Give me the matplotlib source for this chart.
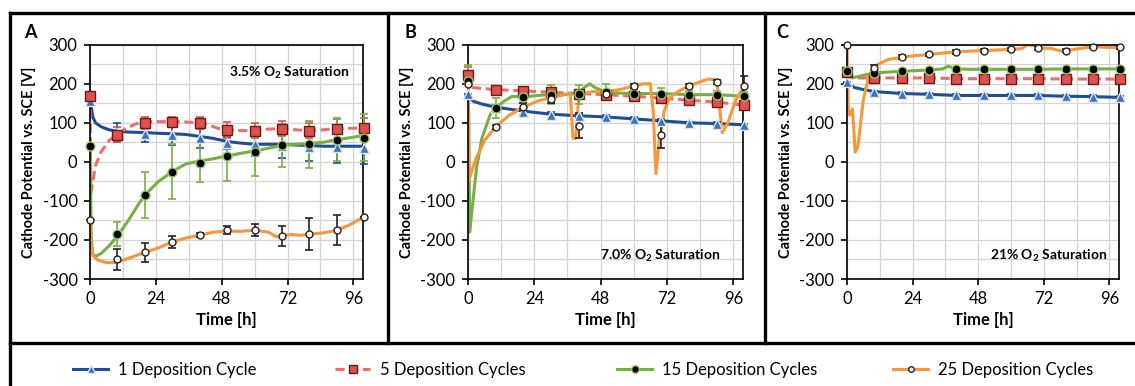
#!/usr/bin/env python3
"""Cathode potential vs time for three O2 saturation levels (panels A-C)."""

import matplotlib

matplotlib.use("Agg")
import matplotlib.pyplot as plt
from matplotlib.lines import Line2D
from matplotlib.ticker import MultipleLocator

plt.rcParams["font.family"] = ["Lato", "DejaVu Sans"]
plt.rcParams["mathtext.fontset"] = "custom"
plt.rcParams["mathtext.rm"] = "Lato"
plt.rcParams["mathtext.bf"] = "Lato:bold"
plt.rcParams["axes.unicode_minus"] = False

SERIES = ["1 Deposition Cycle", "5 Deposition Cycles", "15 Deposition Cycles", "25 Deposition Cycles"]
MARKER_T = [0, 10, 20, 30, 40, 50, 60, 70, 80, 90, 100]

# ---- panel A: 3.5% O2 ----
A_T1 = [0, 0.5, 1, 2, 4, 7, 10, 15, 20, 25, 30, 35, 40, 45, 50, 55, 60, 65, 70, 75, 80, 85, 90, 95, 100]
A_V1 = [155, 140, 115, 100, 90, 82, 78, 76, 75, 73, 72, 70, 65, 60, 52, 48, 45, 45, 45, 43, 42, 40, 40, 40, 40]
A_T5 = [0, 0.3, 0.8, 2, 4, 7, 10, 13, 17, 20, 25, 30, 35, 40, 43, 47, 50, 55, 60, 65, 70, 75, 80, 85, 90, 95, 100]
A_V5 = [168, -80, -60, -10, 25, 55, 70, 85, 98, 102, 103, 103, 102, 100, 95, 85, 82, 80, 80, 84, 85, 82, 80, 82, 85, 86, 87]
A_T15 = [0, 0.5, 1, 2, 4, 7, 10, 14, 18, 20, 25, 30, 35, 40, 45, 50, 55, 60, 65, 70, 75, 80, 85, 90, 95, 100]
A_V15 = [40, -200, -235, -242, -235, -215, -190, -150, -105, -85, -50, -25, -5, 2, 8, 15, 22, 28, 35, 42, 45, 47, 50, 57, 62, 68]
A_T25 = [0, 0.5, 1, 3, 6, 9, 12, 16, 20, 25, 30, 35, 40, 45, 50, 55, 60, 65, 68, 70, 73, 77, 80, 85, 90, 95, 100]
A_V25 = [-150, -220, -240, -252, -258, -258, -252, -242, -232, -220, -205, -195, -188, -180, -177, -178, -175, -180,
         -192, -190, -186, -188, -185, -182, -175, -160, -140]
A_M1 = [155, 75, 72, 68, 60, 48, 45, 40, 38, 38, 35]
A_E1 = [0, 25, 20, 25, 25, 15, 30, 30, 35, 40, 40]
A_M5 = [168, 70, 100, 103, 100, 82, 80, 85, 80, 85, 87]
A_E5 = [0, 20, 15, 12, 15, 20, 20, 20, 20, 25, 25]
A_M15 = [40, -185, -85, -25, -2, 15, 25, 42, 45, 57, 62]
A_E15 = [0, 30, 60, 70, 50, 65, 60, 55, 60, 55, 60]
A_M25 = [-150, -250, -232, -205, -188, -175, -175, -190, -185, -175, -140]
A_E25 = [0, 28, 25, 15, 5, 10, 15, 25, 40, 38, 0]

# ---- panel B: 7.0% O2 ----
B_T1 = [0, 0.5, 2, 5, 10, 20, 30, 40, 50, 60, 70, 80, 90, 100]
B_V1 = [175, 165, 155, 148, 140, 130, 122, 118, 115, 110, 105, 100, 98, 95]
B_T5 = [0, 0.5, 2, 5, 10, 20, 30, 40, 50, 60, 70, 80, 90, 100]
B_V5 = [222, 195, 190, 188, 185, 182, 178, 175, 172, 168, 163, 158, 153, 145]
B_T15 = [0, 0.3, 0.6, 1.5, 3, 5, 8, 10, 13, 16, 20, 25, 30, 35, 40, 42, 44, 46, 50, 55, 60, 70, 80, 90, 100]
B_V15 = [208, 100, -180, -120, -20, 60, 120, 138, 155, 168, 165, 170, 172, 173, 175, 190, 200, 190, 178, 176, 175,
         175, 172, 172, 168]
B_T25 = [0, 0.3, 1, 3, 6, 10, 15, 20, 25, 30, 35, 37, 38, 39, 40, 42, 45, 50, 55, 60, 64, 66, 67, 68, 69, 71, 73,
         76, 80, 84, 87, 90, 91, 92, 94, 97, 100]
B_V25 = [200, -50, -30, 10, 55, 90, 120, 140, 155, 165, 172, 175, 60, 60, 160, 175, 180, 180, 185, 195, 200, 200,
         130, -30, 40, 130, 165, 180, 195, 205, 212, 210, 140, 75, 100, 160, 195]
B_M1 = [175, 138, 128, 120, 118, 115, 110, 105, 100, 98, 95]
B_E1 = [0, 8, 8, 8, 5, 5, 5, 5, 3, 3, 3]
B_M5 = [222, 185, 182, 178, 175, 172, 168, 163, 158, 153, 145]
B_E5 = [20, 5, 5, 5, 5, 5, 5, 5, 5, 5, 5]
B_M15 = [208, 138, 165, 172, 173, 180, 175, 175, 172, 172, 168]
B_E15 = [40, 25, 15, 25, 25, 20, 10, 15, 10, 10, 10]
B_M25 = [200, 90, 140, 160, 93, 175, 195, 70, 195, 205, 195]
B_E25 = [0, 5, 10, 10, 32, 5, 5, 35, 5, 5, 25]

# ---- panel C: 21% O2 ----
C_T1 = [0, 1, 3, 6, 10, 20, 30, 40, 50, 60, 70, 80, 90, 100]
C_V1 = [205, 195, 190, 185, 180, 175, 173, 170, 170, 170, 170, 168, 167, 165]
C_T5 = [0, 1, 3, 10, 20, 30, 40, 50, 60, 70, 80, 90, 100]
C_V5 = [230, 218, 215, 215, 215, 215, 213, 213, 213, 213, 212, 212, 212]
C_T15 = [0, 2, 5, 10, 15, 20, 30, 35, 37, 40, 45, 50, 60, 70, 80, 90, 100]
C_V15 = [235, 215, 220, 228, 230, 232, 235, 238, 245, 238, 237, 237, 237, 237, 238, 238, 238]
C_T25 = [0, 0.5, 1, 2, 3, 4, 5, 6, 8, 10, 15, 20, 25, 30, 40, 50, 60, 64, 66, 68, 70, 75, 78, 80, 85, 90, 95, 100]
C_V25 = [300, 130, 120, 135, 25, 40, 100, 160, 220, 245, 262, 268, 272, 275, 282, 285, 288, 290, 300, 298, 292, 290,
         284, 285, 290, 295, 293, 293]
C_M1 = [205, 178, 175, 173, 170, 170, 170, 170, 168, 167, 165]
C_E1 = [0, 4, 3, 3, 3, 3, 3, 3, 3, 3, 3]
C_M5 = [230, 215, 215, 215, 213, 213, 213, 213, 212, 212, 212]
C_E5 = [0, 4, 3, 3, 3, 3, 3, 3, 3, 3, 3]
C_M15 = [232, 228, 232, 235, 238, 237, 237, 237, 238, 238, 238]
C_E15 = [0, 4, 3, 3, 3, 3, 3, 3, 3, 3, 3]
C_M25 = [300, 240, 268, 275, 282, 285, 288, 292, 285, 295, 293]
C_E25 = [0, 8, 5, 5, 5, 3, 3, 5, 3, 3, 3]

PANELS = [
    ("A", "3.5% O$_\\mathbf{2}$ Saturation", (0.95, 0.88),
     [(A_T1, A_V1, A_M1, A_E1), (A_T5, A_V5, A_M5, A_E5), (A_T15, A_V15, A_M15, A_E15), (A_T25, A_V25, A_M25, A_E25)]),
    ("B", "7.0% O$_\\mathbf{2}$ Saturation", (0.92, 0.10),
     [(B_T1, B_V1, B_M1, B_E1), (B_T5, B_V5, B_M5, B_E5), (B_T15, B_V15, B_M15, B_E15), (B_T25, B_V25, B_M25, B_E25)]),
    ("C", "21% O$_\\mathbf{2}$ Saturation", (0.955, 0.10),
     [(C_T1, C_V1, C_M1, C_E1), (C_T5, C_V5, C_M5, C_E5), (C_T15, C_V15, C_M15, C_E15), (C_T25, C_V25, C_M25, C_E25)]),
]

STYLES = [
    dict(color="#1F4E96", ls="-", marker="^", mfc="#3C74BE", mec="#DDE6F2", ms=7, ecolor="#1F4E96"),
    dict(color="#F06C6C", ls=(0, (3, 1.5)), marker="s", mfc="#E0504C", mec="#6B1A1A", ms=7, ecolor="#E0504C"),
    dict(color="#77B040", ls="-", marker="o", mfc="black", mec="#9CCB6A", ms=6.5, ecolor="#77B040"),
    dict(color="#F7963C", ls="-", marker="o", mfc="white", mec="#222222", ms=5, ecolor="#222222"),
]

W, H = 1135, 386
AX_BOXES = [(90, 363), (468, 743), (847, 1119)]
AX_BOTTOM = 1 - 279 / H
AX_TOP = 1 - 44.7 / H
LETTER_X = [30, 410, 782]
LEGEND_X = [73, 335, 617, 893]

fig = plt.figure(figsize=(W / 100, H / 100), dpi=100)

for (letter, note, note_pos, series), (x0, x1), lx in zip(PANELS, AX_BOXES, LETTER_X):
    ax = fig.add_axes([x0 / W, AX_BOTTOM, (x1 - x0) / W, AX_TOP - AX_BOTTOM])
    for (t, v, m, e), st in zip(series, STYLES):
        ax.plot(t, v, color=st["color"], ls=st["ls"], lw=2.2, zorder=2, solid_capstyle="round")
    for (t, v, m, e), st in zip(series, STYLES):
        ax.errorbar(MARKER_T, m, yerr=e, fmt="none", ecolor=st["ecolor"], elinewidth=1.2, capsize=3,
                    capthick=1.2, zorder=3, clip_on=False)
        ax.plot(MARKER_T, m, ls="none", marker=st["marker"], mfc=st["mfc"], mec=st["mec"], ms=st["ms"],
                mew=1.0, zorder=4, clip_on=False)

    ax.set_xlim(0, 99.5)
    ax.set_ylim(-300, 300)
    ax.xaxis.set_major_locator(MultipleLocator(24))
    ax.xaxis.set_minor_locator(MultipleLocator(12))
    ax.yaxis.set_major_locator(MultipleLocator(100))
    ax.yaxis.set_minor_locator(MultipleLocator(50))
    ax.grid(which="both", color="#D4D4D4", lw=0.9, zorder=0)
    ax.set_axisbelow(True)
    ax.tick_params(which="major", direction="out", length=4, width=1.2, labelsize=12, pad=5, color="black")
    ax.tick_params(which="minor", length=0)
    for sp in ax.spines.values():
        sp.set_linewidth(1.2)
        sp.set_color("black")
    ax.set_xlabel("Time [h]", fontsize=12, fontweight="bold", labelpad=3)
    ax.set_ylabel("Cathode Potential vs. SCE [V]", fontsize=10.5, fontweight="bold", labelpad=5)
    ax.text(note_pos[0], note_pos[1], note, transform=ax.transAxes, ha="right", va="center",
            fontsize=10, fontweight="bold", zorder=5)
    fig.text(lx / W, 1 - 33 / H, letter, fontsize=13, fontweight="bold", ha="center", va="center")

# panel borders
BORDER_LW = 2.4
fig.add_artist(Line2D([10 / W, 1.0], [1 - 13 / H] * 2, color="black", lw=BORDER_LW))
fig.add_artist(Line2D([10 / W] * 2, [0.0, 1 - 13 / H], color="black", lw=BORDER_LW))
fig.add_artist(Line2D([10 / W, 1.0], [1 - 343 / H] * 2, color="black", lw=BORDER_LW))
for xd in (388, 765):
    fig.add_artist(Line2D([xd / W, xd / W], [1 - 343 / H, 1 - 13 / H], color="black", lw=BORDER_LW))

for label, st, lx in zip(SERIES, STYLES, LEGEND_X):
    handle = Line2D([], [], color=st["color"], ls=st["ls"], lw=2.2, marker=st["marker"], mfc=st["mfc"],
                    mec=st["mec"], ms=st["ms"] - 1)
    fig.legend([handle], [label], loc="center left", bbox_to_anchor=(lx / W, 1 - 370 / H), frameon=False,
               fontsize=12, handlelength=2.1, handletextpad=0.6, borderpad=0, borderaxespad=0)

fig.savefig("out.png", dpi=100)
